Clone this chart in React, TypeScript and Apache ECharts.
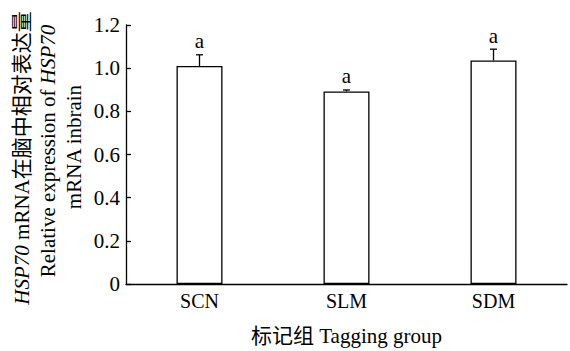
import React, { useEffect, useRef } from "react";
import * as echarts from "echarts";

const categories = ["SCN", "SLM", "SDM"];
const means = [1.01, 0.892, 1.036];
const errors = [0.052, 0.007, 0.052];
const sigLetters = ["a", "a", "a"];
const yTicks = [0, 0.2, 0.4, 0.6, 0.8, 1.0, 1.2];

const SERIF = '"Liberation Serif", "Times New Roman", "Noto Sans CJK SC", serif';

export default function App() {
  const ref = useRef<HTMLDivElement>(null);
  useEffect(() => {
    document.body.style.margin = "0";
    const chart = echarts.init(ref.current!, undefined, { renderer: "svg" });
    const errData = categories.map((c, i) => [i, means[i], errors[i], sigLetters[i]]);
    chart.setOption({
      animation: false,
      backgroundColor: "#fff",
      grid: { left: 126, right: 3, top: 25, bottom: 57, containLabel: false },
      xAxis: {
        type: "category",
        data: categories,
        name: "标记组 Tagging group",
        nameLocation: "middle",
        nameGap: 41,
        nameTextStyle: { fontFamily: SERIF, fontSize: 21, color: "#000" },
        axisLine: { lineStyle: { color: "#000", width: 1.3 } },
        axisTick: { inside: true, length: 6, lineStyle: { color: "#000", width: 1.3 } },
        axisLabel: { fontFamily: SERIF, fontSize: 20, color: "#000", margin: 7 },
      },
      yAxis: {
        type: "value",
        min: 0,
        max: 1.2,
        interval: 0.2,
        axisLine: { show: true, lineStyle: { color: "#000", width: 1.3 } },
        axisTick: { show: true, inside: true, length: 5, lineStyle: { color: "#000", width: 1.3 } },
        splitLine: { show: false },
        axisLabel: {
          fontFamily: SERIF,
          fontSize: 21,
          color: "#000",
          margin: 6,
          formatter: (v: number) => {
            const t = yTicks.find((x) => Math.abs(x - v) < 1e-9);
            const val = t === undefined ? v : t;
            return val === 0 ? "0" : val.toFixed(1);
          },
        },
      },
      series: [
        {
          type: "bar",
          data: means,
          barWidth: 46,
          itemStyle: { color: "#fff", borderColor: "#000", borderWidth: 1.3 },
        },
        {
          type: "custom",
          data: errData,
          z: 10,
          renderItem: (params: any, api: any) => {
            const x = api.value(0);
            const m = api.value(1);
            const e = api.value(2);
            const p0 = api.coord([x, m]);
            const p1 = api.coord([x, m + e]);
            const half = 3.5;
            return {
              type: "group",
              children: [
                {
                  type: "line",
                  shape: { x1: p0[0], y1: p0[1], x2: p1[0], y2: p1[1] },
                  style: { stroke: "#000", lineWidth: 1.3 },
                },
                {
                  type: "line",
                  shape: { x1: p1[0] - half, y1: p1[1], x2: p1[0] + half, y2: p1[1] },
                  style: { stroke: "#000", lineWidth: 1.3 },
                },
                {
                  type: "text",
                  x: p1[0],
                  y: p1[1] - 3,
                  style: {
                    text: sigLetters[params.dataIndex],
                    fontFamily: SERIF,
                    fontSize: 21,
                    fill: "#000",
                    textAlign: "center",
                    textVerticalAlign: "bottom",
                  },
                },
              ],
            };
          },
        },
      ],
      graphic: [
        {
          type: "text",
          x: 22,
          y: 158,
          rotation: Math.PI / 2,
          style: {
            text: "{i|HSP70}{n| mRNA在脑中相对表达量}",
            textAlign: "center",
            textVerticalAlign: "middle",
            rich: {
              i: { fontFamily: SERIF, fontSize: 21, fontStyle: "italic", fill: "#000" },
              n: { fontFamily: SERIF, fontSize: 21, fill: "#000" },
            },
            fill: "#000",
          },
        },
        {
          type: "text",
          x: 48,
          y: 151,
          rotation: Math.PI / 2,
          style: {
            text: "{n|Relative expression of }{i|HSP70}",
            textAlign: "center",
            textVerticalAlign: "middle",
            rich: {
              i: { fontFamily: SERIF, fontSize: 21, fontStyle: "italic", fill: "#000" },
              n: { fontFamily: SERIF, fontSize: 21, fill: "#000" },
            },
            fill: "#000",
          },
        },
        {
          type: "text",
          x: 74,
          y: 147,
          rotation: Math.PI / 2,
          style: {
            text: "mRNA inbrain",
            textAlign: "center",
            textVerticalAlign: "middle",
            fontFamily: SERIF,
            fontSize: 21,
            fill: "#000",
          },
        },
      ],
    });
    return () => chart.dispose();
  }, []);
  return <div ref={ref} style={{ width: 570, height: 351 }} />;
}
